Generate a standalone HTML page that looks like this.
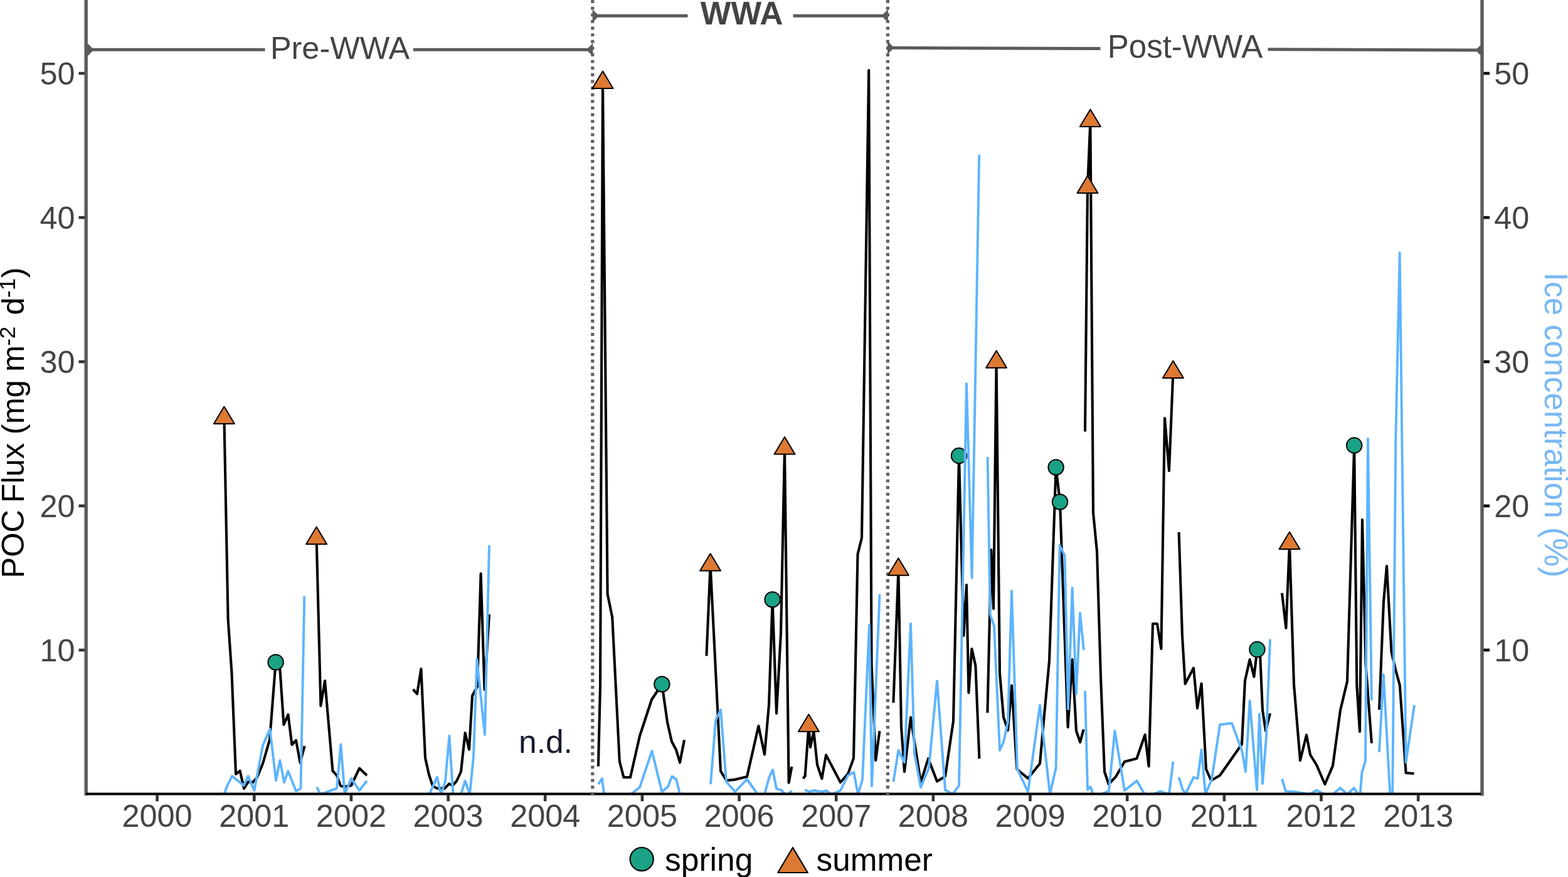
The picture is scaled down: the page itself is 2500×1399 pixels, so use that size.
<!DOCTYPE html>
<html lang="en">
<head>
<meta charset="utf-8">
<title>POC Flux and Ice concentration</title>
<style>
html,body{margin:0;padding:0;background:#fff;}
body{width:2500px;height:1399px;overflow:hidden;}
svg{display:block;}
text{font-family:"Liberation Sans",sans-serif;}
</style>
</head>
<body>
<svg width="2500" height="1399" viewBox="0 0 2500 1399">
<rect width="2500" height="1399" fill="#fff"/>
<line x1="944.8" y1="0.05" x2="944.8" y2="1270" stroke="#616161" stroke-width="5.2" stroke-dasharray="4.9 5.72"/>
<line x1="1415.4" y1="0.05" x2="1415.4" y2="1270" stroke="#616161" stroke-width="5.2" stroke-dasharray="4.9 5.72"/>
<g fill="none" stroke="#000" stroke-width="4.1" stroke-linejoin="round" stroke-linecap="butt">
<polyline points="357.4,667.0 363.6,988.0 369.5,1074.0 376.0,1235.0 382.6,1229.6 389.0,1258.0 396.0,1247.0 403.0,1248.0 409.5,1241.0 419.0,1218.0 430.0,1180.0 439.6,1056.4 446.0,1062.0 452.4,1156.0 459.4,1140.0 465.4,1188.0 472.0,1181.0 478.6,1217.0 485.6,1190.0"/>
<polyline points="504.6,859.0 511.4,1126.0 518.0,1086.0 530.4,1229.6 537.0,1237.0 543.0,1253.6 549.0,1255.0 560.0,1253.0 573.0,1225.6 585.0,1237.0"/>
<polyline points="658.6,1099.6 665.0,1107.0 671.4,1067.0 678.0,1209.0 684.0,1236.0 690.0,1254.0 697.0,1257.6 709.0,1257.6 716.0,1250.4 721.6,1253.0 728.0,1246.0 735.0,1231.0 741.6,1169.0 748.0,1195.6 753.0,1110.0 761.0,1095.0 766.6,915.0 772.5,1100.0 780.0,980.0"/>
<polyline points="953.9,1222.5 957.0,1095.0 961.0,132.0 968.6,947.6 976.2,984.6 987.8,1214.5 994.4,1240.0 1005.0,1240.0 1020.0,1174.0 1039.0,1116.0 1049.0,1101.0 1055.4,1091.4 1064.0,1152.0 1071.0,1183.0 1078.0,1196.0 1084.0,1216.4 1091.0,1180.4"/>
<polyline points="1126.4,1046.4 1132.6,901.4 1149.0,1230.0 1158.0,1245.0 1172.0,1243.6 1191.0,1239.0 1209.4,1158.0 1219.0,1203.6 1226.0,1124.0 1231.6,956.4 1238.0,1138.0 1245.0,1010.0 1251.0,715.5 1257.6,1248.6 1262.4,1223.0"/>
<polyline points="1280.4,1242.0 1283.6,1238.0 1289.4,1158.0 1292.0,1192.0 1297.4,1167.0 1303.0,1220.0 1310.4,1242.0 1317.0,1204.4 1340.0,1248.0 1352.0,1234.4 1361.0,1209.6 1367.5,884.0 1374.0,858.0 1385.2,112.0 1389.6,1060.0 1396.2,1213.0 1402.4,1166.0"/>
<polyline points="1424.4,1121.0 1432.4,908.6 1437.0,1160.0 1442.0,1231.0 1452.0,1144.4 1468.0,1248.0 1480.0,1210.0 1494.0,1246.4 1507.0,1238.4 1520.0,1150.0 1529.0,727.0 1536.4,1014.0 1541.0,933.0 1544.4,1105.0 1549.4,1035.0 1555.4,1062.0 1561.4,1210.4"/>
<polyline points="1574.4,1137.0 1580.4,877.0 1584.0,971.0 1588.6,577.6 1594.0,1074.0 1600.0,1144.0 1607.0,1165.0 1613.0,1093.6 1621.4,1227.0 1639.0,1241.6 1658.0,1218.0 1665.0,1140.0 1673.0,1054.0 1683.6,745.4 1690.0,800.6 1702.6,1160.0 1709.6,1052.0 1716.0,1166.0 1722.2,1184.0 1727.6,1163.6"/>
<polyline points="1730.0,688.6 1734.0,299.0 1738.4,193.0 1743.0,818.0 1749.0,880.0 1755.0,1080.0 1761.0,1231.0 1767.6,1251.0 1779.0,1239.0 1793.0,1215.0 1812.4,1210.0 1825.6,1172.0 1831.6,1222.4 1838.0,995.0 1845.0,995.0 1851.4,1035.0 1857.0,667.0 1864.0,751.0 1870.4,594.0"/>
<polyline points="1879.6,849.0 1885.0,1015.0 1889.6,1091.0 1903.0,1065.6 1909.0,1129.6 1915.6,1090.4 1923.0,1227.0 1931.0,1245.0 1945.0,1237.0 1980.0,1187.0 1985.0,1086.0 1992.6,1052.0 1999.4,1079.6 2004.4,1036.0 2009.0,1042.0 2013.0,1133.0 2018.0,1166.0 2025.0,1138.0"/>
<polyline points="2044.0,946.0 2050.4,1002.0 2056.0,867.0 2063.0,1092.0 2073.0,1213.0 2083.0,1172.4 2089.0,1204.0 2099.0,1220.0 2112.4,1251.0 2125.0,1221.6 2137.0,1133.0 2148.0,1087.0 2159.2,710.5 2163.3,1093.0 2168.0,1167.0 2172.0,829.0 2177.5,1060.0 2186.9,1185.6"/>
<polyline points="2199.0,1132.0 2206.0,960.0 2211.0,903.0 2218.5,1040.0 2225.0,1068.0 2231.8,1093.0 2241.6,1233.0 2254.5,1234.0"/>
</g>
<g stroke="#000" stroke-width="2" stroke-linejoin="round">
<polygon fill="#DD7933" points="357.4,648.6 373.9,676.1 340.9,676.1"/>
<polygon fill="#DD7933" points="504.6,840.6 521.1,868.1 488.1,868.1"/>
<polygon fill="#DD7933" points="961.0,113.6 977.5,141.1 944.5,141.1"/>
<polygon fill="#DD7933" points="1132.6,883.0 1149.1,910.5 1116.1,910.5"/>
<polygon fill="#DD7933" points="1251.0,697.1 1267.5,724.6 1234.5,724.6"/>
<polygon fill="#DD7933" points="1289.4,1139.6 1305.9,1167.1 1272.9,1167.1"/>
<polygon fill="#DD7933" points="1432.4,890.2 1448.9,917.7 1415.9,917.7"/>
<polygon fill="#DD7933" points="1588.6,559.2 1605.1,586.7 1572.1,586.7"/>
<polygon fill="#DD7933" points="1734.0,280.6 1750.5,308.1 1717.5,308.1"/>
<polygon fill="#DD7933" points="1738.4,174.6 1754.9,202.1 1721.9,202.1"/>
<polygon fill="#DD7933" points="1870.4,575.6 1886.9,603.1 1853.9,603.1"/>
<polygon fill="#DD7933" points="2056.0,848.6 2072.5,876.1 2039.5,876.1"/>
<circle fill="#1AA285" cx="439.6" cy="1056.4" r="12.2"/>
<circle fill="#1AA285" cx="1055.4" cy="1091.4" r="12.2"/>
<circle fill="#1AA285" cx="1231.6" cy="956.4" r="12.2"/>
<circle fill="#1AA285" cx="1529.0" cy="727.0" r="12.2"/>
<circle fill="#1AA285" cx="1683.6" cy="745.4" r="12.2"/>
<circle fill="#1AA285" cx="1690.0" cy="800.6" r="12.2"/>
<circle fill="#1AA285" cx="2004.4" cy="1036.0" r="12.2"/>
<circle fill="#1AA285" cx="2159.2" cy="710.5" r="12.2"/>
</g>
<g fill="none" stroke="#5DB4FF" stroke-width="3.9" stroke-linejoin="round" stroke-linecap="butt">
<polyline points="357.4,1267.0 362.0,1254.0 370.0,1238.0 388.6,1253.0 395.6,1238.0 405.4,1261.0 419.0,1189.0 430.4,1163.0 440.0,1245.0 446.4,1213.0 453.0,1248.0 459.4,1230.0 472.0,1262.0 479.5,1257.6 485.3,951.0"/>
<polyline points="505.0,1255.6 511.0,1267.0 537.0,1257.6 543.4,1187.4 549.6,1267.0 560.0,1242.0 573.0,1261.0 585.0,1245.6"/>
<polyline points="684.5,1267.0 697.0,1239.6 703.0,1267.0 710.0,1246.0 716.4,1174.0 722.4,1267.0 735.0,1267.0 741.6,1245.6 749.0,1267.0 755.0,1206.0 760.4,1052.0 773.0,1172.0 780.0,870.0"/>
<polyline points="954.0,1251.0 960.0,1242.0 963.0,1267.0 1006.0,1267.0 1020.0,1256.0 1039.4,1198.0 1055.4,1263.0 1065.0,1255.0 1071.4,1238.4 1078.4,1243.6 1084.0,1267.0 1091.0,1267.0"/>
<polyline points="1133.0,1251.0 1141.0,1149.0 1149.0,1132.0 1158.0,1247.0 1172.0,1263.0 1191.0,1243.0 1208.0,1267.0 1219.0,1267.0 1226.0,1241.0 1232.0,1228.0 1238.0,1258.0 1245.0,1260.0 1252.0,1267.0 1257.6,1267.0 1262.0,1261.0"/>
<polyline points="1283.0,1260.0 1290.0,1263.0 1298.0,1261.0 1310.0,1263.0 1317.0,1261.0 1326.0,1267.0 1340.0,1261.0 1352.0,1237.0 1361.4,1232.0 1368.0,1267.0 1375.0,1244.0 1386.0,997.0 1390.0,1254.0 1402.5,948.0"/>
<polyline points="1424.4,1247.0 1432.4,1197.0 1442.0,1216.0 1452.0,995.0 1458.0,1202.0 1468.0,1256.0 1481.0,1225.0 1494.0,1086.4 1507.0,1260.0 1519.0,1267.0 1529.0,1253.0 1541.0,612.0 1549.6,922.0 1561.2,247.0"/>
<polyline points="1574.6,729.0 1578.7,980.0 1585.0,998.5 1594.0,1197.0 1600.0,1183.6 1607.0,1152.0 1613.0,942.4 1622.0,1227.0 1639.0,1263.0 1658.0,1125.0 1674.0,1267.0 1683.6,1225.0 1689.6,870.0 1697.5,886.0 1703.0,1131.0 1709.6,938.0 1716.0,1107.0 1722.0,978.0 1728.0,1037.0"/>
<polyline points="1730.0,1102.0 1734.0,1259.6 1738.6,1255.0 1743.0,1267.0 1755.0,1267.0 1768.0,1262.0 1777.4,1166.0 1793.0,1261.0 1812.4,1245.6 1825.0,1267.0 1838.0,1267.0 1850.0,1262.4 1864.0,1267.0 1870.4,1215.0"/>
<polyline points="1879.6,1240.0 1885.0,1257.6 1890.0,1267.0 1903.0,1240.0 1909.6,1242.0 1915.6,1196.0 1922.0,1267.0 1932.0,1243.0 1945.0,1156.0 1964.0,1153.6 1980.0,1197.0 1986.0,1231.0 1992.6,1117.6 2004.0,1260.0 2008.0,1139.0 2013.0,1250.0 2019.0,1174.0 2025.0,1019.6"/>
<polyline points="2044.0,1242.4 2050.0,1262.4 2063.0,1263.0 2088.0,1267.0 2099.0,1260.6 2112.0,1267.0 2125.0,1267.0 2137.0,1257.0 2148.0,1267.0 2159.0,1257.0 2165.0,1267.0 2168.6,1267.0 2171.5,1232.0 2177.0,1213.5 2181.0,700.0 2186.9,1117.0"/>
<polyline points="2199.0,1200.0 2205.8,1076.0 2216.3,1267.0 2220.2,1267.0 2225.4,695.0 2231.7,403.3 2241.6,1216.0 2255.0,1124.8"/>
</g>
<rect x="140" y="1268" width="2220" height="6" fill="#fff"/>
<g stroke="#5b5b5b" stroke-width="5" fill="#5b5b5b">
<line x1="140" y1="79.3" x2="422.5" y2="79.3"/><line x1="659" y1="79.3" x2="942" y2="79.3"/>
<line x1="948" y1="25.3" x2="1096.5" y2="25.3"/><line x1="1264.5" y1="25.3" x2="1412" y2="25.3"/>
<line x1="1418" y1="76.2" x2="1754.5" y2="77.6"/><line x1="2021.5" y1="78.7" x2="2360" y2="80.1"/>
</g>
<g fill="#5b5b5b">
<polygon points="139.2,68.7 149.79999999999998,79.3 139.2,89.89999999999999"/>
<polygon points="945.4,68.7 934.8,79.3 945.4,89.89999999999999"/>
<polygon points="944.6,14.700000000000001 955.2,25.3 944.6,35.9"/>
<polygon points="1415.9,14.700000000000001 1405.3000000000002,25.3 1415.9,35.9"/>
<polygon points="1415.0,65.60000000000001 1425.6,76.2 1415.0,86.8"/>
<polygon points="2363.0,69.5 2352.4,80.1 2363.0,90.69999999999999"/>
</g>
<line x1="137.2" y1="0" x2="137.2" y2="1269" stroke="#5b5b5b" stroke-width="5.4"/>
<line x1="2363" y1="0" x2="2363" y2="1269.4" stroke="#5b5b5b" stroke-width="5.4"/>
<line x1="137" y1="1266.6" x2="2361" y2="1266.6" stroke="#000" stroke-width="4"/>
<rect x="942.1999999999999" y="1263.9" width="5.2" height="4.9" fill="#616161"/>
<rect x="1412.8000000000002" y="1263.9" width="5.2" height="4.9" fill="#616161"/>
<line x1="125.5" y1="117" x2="135" y2="117" stroke="#333" stroke-width="4.6"/>
<line x1="2365.5" y1="117" x2="2375" y2="117" stroke="#000" stroke-width="4.6"/>
<line x1="125.5" y1="347" x2="135" y2="347" stroke="#333" stroke-width="4.6"/>
<line x1="2365.5" y1="347" x2="2375" y2="347" stroke="#000" stroke-width="4.6"/>
<line x1="125.5" y1="577" x2="135" y2="577" stroke="#333" stroke-width="4.6"/>
<line x1="2365.5" y1="577" x2="2375" y2="577" stroke="#000" stroke-width="4.6"/>
<line x1="125.5" y1="807" x2="135" y2="807" stroke="#333" stroke-width="4.6"/>
<line x1="2365.5" y1="807" x2="2375" y2="807" stroke="#000" stroke-width="4.6"/>
<line x1="125.5" y1="1037" x2="135" y2="1037" stroke="#333" stroke-width="4.6"/>
<line x1="2365.5" y1="1037" x2="2375" y2="1037" stroke="#000" stroke-width="4.6"/>
<line x1="250.6" y1="1268" x2="250.6" y2="1278.2" stroke="#333" stroke-width="4.6"/>
<line x1="405.3" y1="1268" x2="405.3" y2="1278.2" stroke="#333" stroke-width="4.6"/>
<line x1="559.9" y1="1268" x2="559.9" y2="1278.2" stroke="#333" stroke-width="4.6"/>
<line x1="714.6" y1="1268" x2="714.6" y2="1278.2" stroke="#333" stroke-width="4.6"/>
<line x1="869.2" y1="1268" x2="869.2" y2="1278.2" stroke="#333" stroke-width="4.6"/>
<line x1="1023.9" y1="1268" x2="1023.9" y2="1278.2" stroke="#333" stroke-width="4.6"/>
<line x1="1178.6" y1="1268" x2="1178.6" y2="1278.2" stroke="#333" stroke-width="4.6"/>
<line x1="1333.2" y1="1268" x2="1333.2" y2="1278.2" stroke="#333" stroke-width="4.6"/>
<line x1="1487.9" y1="1268" x2="1487.9" y2="1278.2" stroke="#333" stroke-width="4.6"/>
<line x1="1642.5" y1="1268" x2="1642.5" y2="1278.2" stroke="#333" stroke-width="4.6"/>
<line x1="1797.2" y1="1268" x2="1797.2" y2="1278.2" stroke="#333" stroke-width="4.6"/>
<line x1="1951.9" y1="1268" x2="1951.9" y2="1278.2" stroke="#333" stroke-width="4.6"/>
<line x1="2106.5" y1="1268" x2="2106.5" y2="1278.2" stroke="#333" stroke-width="4.6"/>
<line x1="2261.2" y1="1268" x2="2261.2" y2="1278.2" stroke="#333" stroke-width="4.6"/>
<g font-size="50.4" fill="#444444">
<text x="119.5" y="135.3" text-anchor="end">50</text>
<text x="2382.3" y="135.3" text-anchor="start">50</text>
<text x="119.5" y="365.3" text-anchor="end">40</text>
<text x="2382.3" y="365.3" text-anchor="start">40</text>
<text x="119.5" y="595.3" text-anchor="end">30</text>
<text x="2382.3" y="595.3" text-anchor="start">30</text>
<text x="119.5" y="825.3" text-anchor="end">20</text>
<text x="2382.3" y="825.3" text-anchor="start">20</text>
<text x="119.5" y="1055.3" text-anchor="end">10</text>
<text x="2382.3" y="1055.3" text-anchor="start">10</text>
<text x="250.6" y="1319" text-anchor="middle">2000</text>
<text x="405.3" y="1319" text-anchor="middle">2001</text>
<text x="559.9" y="1319" text-anchor="middle">2002</text>
<text x="714.6" y="1319" text-anchor="middle">2003</text>
<text x="869.2" y="1319" text-anchor="middle">2004</text>
<text x="1023.9" y="1319" text-anchor="middle">2005</text>
<text x="1178.6" y="1319" text-anchor="middle">2006</text>
<text x="1333.2" y="1319" text-anchor="middle">2007</text>
<text x="1487.9" y="1319" text-anchor="middle">2008</text>
<text x="1642.5" y="1319" text-anchor="middle">2009</text>
<text x="1797.2" y="1319" text-anchor="middle">2010</text>
<text x="1951.9" y="1319" text-anchor="middle">2011</text>
<text x="2106.5" y="1319" text-anchor="middle">2012</text>
<text x="2261.2" y="1319" text-anchor="middle">2013</text>
</g>
<text x="542" y="94" font-size="50.4" fill="#444444" text-anchor="middle">Pre-WWA</text>
<text x="1182.6" y="39.2" font-size="51.5" font-weight="bold" fill="#444444" text-anchor="middle">WWA</text>
<text x="1889.5" y="92.4" font-size="51" fill="#444444" text-anchor="middle">Post-WWA</text>
<text x="827" y="1200.6" font-size="51.5" fill="#161c2d">n.d.</text>
<text transform="translate(37.5,922.5) rotate(-90)" font-size="50.6" fill="#000">POC <tspan dx="-3.5">Flux</tspan> <tspan dx="-0.5">(mg</tspan> <tspan dx="-1">m</tspan><tspan font-size="35" dy="-13.5" dx="-1">-2</tspan><tspan dy="13.5" dx="4"> d</tspan><tspan font-size="35" dy="-13.5" dx="-0.5">-1</tspan><tspan dy="13.5" dx="0.5">)</tspan></text>
<text transform="translate(2462.8,434.6) rotate(90)" font-size="51.5" fill="#79B8F4">Ice concentration (%)</text>
<circle cx="1023.2" cy="1370.6" r="18.6" fill="#1AA285" stroke="#000" stroke-width="2.2"/>
<polygon points="1264,1352 1287.8,1392 1240.2,1392" fill="#DD7933" stroke="#000" stroke-width="2.2" stroke-linejoin="round"/>
<text x="1060" y="1389" font-size="51.5" fill="#000">spring</text>
<text x="1301.5" y="1389" font-size="51.3" fill="#000">summer</text>
</svg>
</body>
</html>
